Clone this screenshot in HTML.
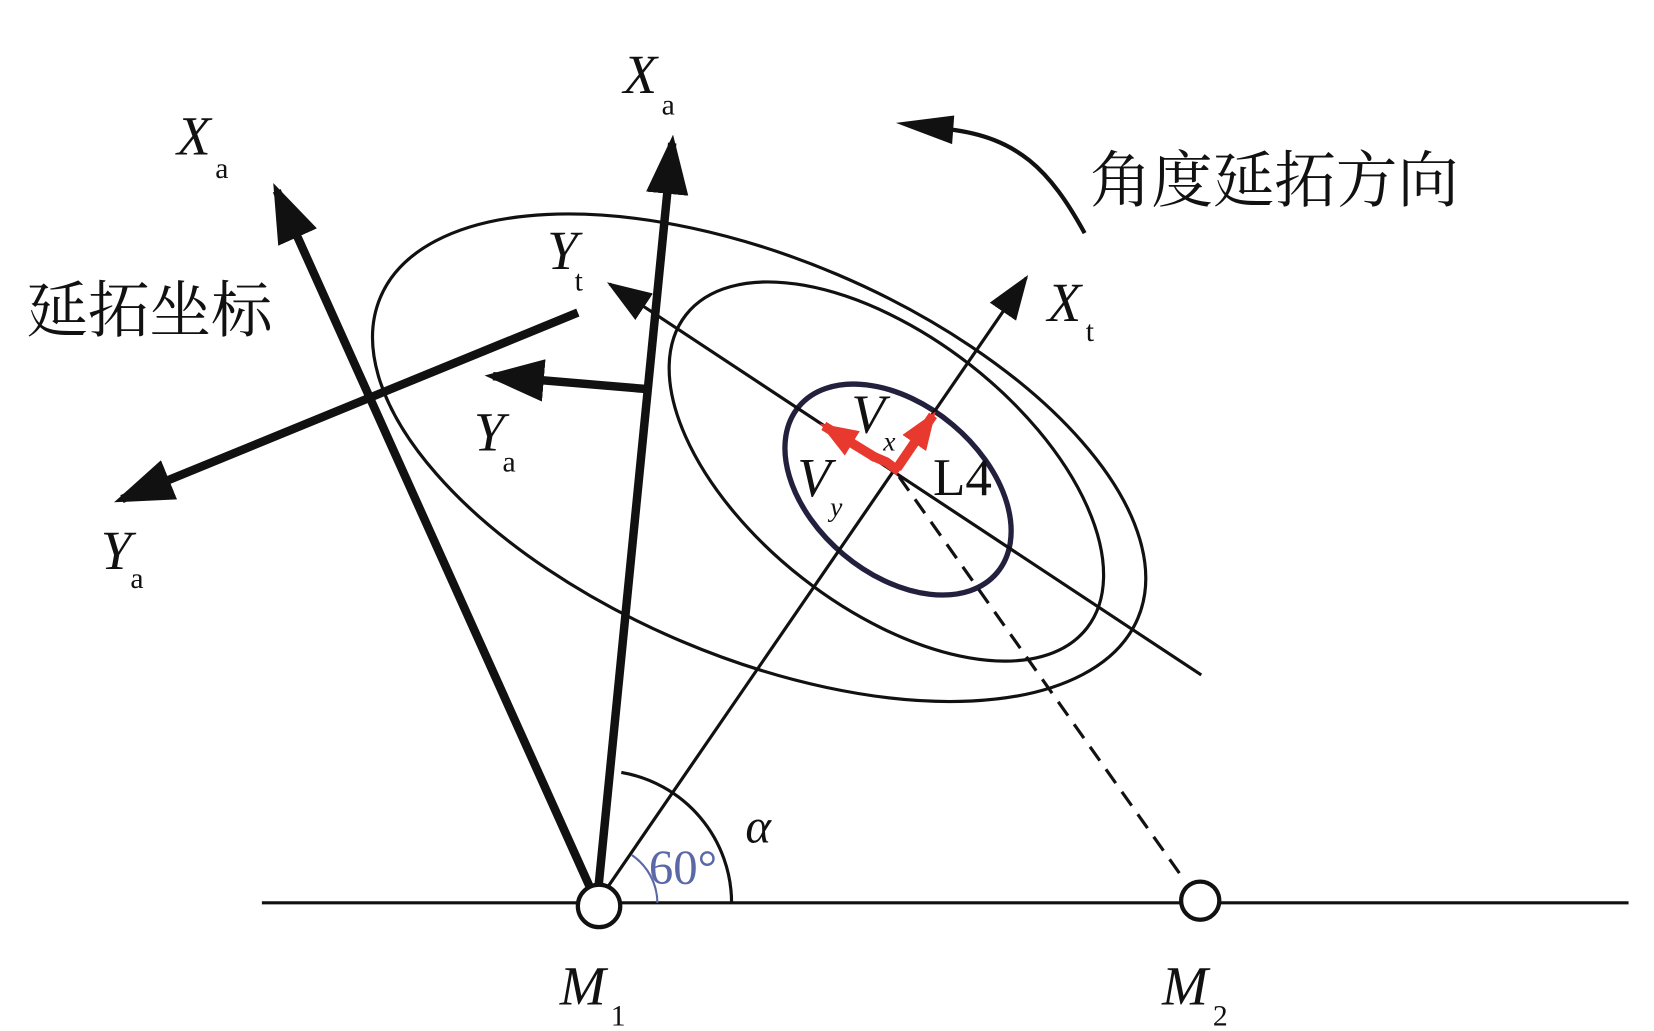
<!DOCTYPE html>
<html><head><meta charset="utf-8"><style>
html,body{margin:0;padding:0;background:#fff;width:1654px;height:1031px;overflow:hidden}
svg{display:block}
.i{font-family:"Liberation Serif",serif;font-style:italic;fill:#111}
.s{font-family:"Liberation Serif",serif;fill:#111}
.c{font-family:"Liberation Serif","Noto Serif CJK SC",serif;fill:#111}
</style></head><body>
<svg width="1654" height="1031" viewBox="0 0 1560 973" preserveAspectRatio="none" xmlns="http://www.w3.org/2000/svg">
<defs>
<marker id="ah" markerWidth="7" markerHeight="5" refX="6" refY="2.5" orient="auto" markerUnits="strokeWidth"><path d="M0,0 L7,2.5 L0,5 Z" fill="#111"/></marker>
<marker id="ah2" markerWidth="14" markerHeight="10" refX="13" refY="5" orient="auto" markerUnits="strokeWidth"><path d="M0,0 L14,5 L0,10 Z" fill="#111"/></marker>
<marker id="ar" markerWidth="4" markerHeight="3" refX="3.5" refY="1.5" orient="auto" markerUnits="strokeWidth"><path d="M0,0 L4,1.5 L0,3 Z" fill="#e8392f"/></marker>
</defs>
<g fill="none" stroke="#111">
<ellipse cx="716" cy="432" rx="388" ry="188" transform="rotate(23 716 432)" stroke-width="3"/>
<ellipse cx="836" cy="445" rx="240" ry="128" transform="rotate(38 836 445)" stroke-width="3"/>
<ellipse cx="847" cy="462" rx="122" ry="80" transform="rotate(40 847 462)" stroke="#22203d" stroke-width="5"/>
<line x1="247" y1="852" x2="1536" y2="852" stroke-width="3"/>
<line x1="563" y1="852" x2="968" y2="262" stroke-width="3" marker-end="url(#ah2)"/>
<line x1="1133" y1="637" x2="575" y2="268" stroke-width="3" marker-end="url(#ah2)"/>
<line x1="848" y1="450" x2="1118" y2="832" stroke-width="3" stroke-dasharray="16,10"/>
<line x1="563" y1="852" x2="261" y2="180" stroke-width="8" marker-end="url(#ah)"/>
<line x1="563" y1="852" x2="634" y2="135" stroke-width="8" marker-end="url(#ah)"/>
<line x1="545" y1="295" x2="115" y2="471" stroke-width="8" marker-end="url(#ah)"/>
<line x1="608" y1="367" x2="465" y2="355" stroke-width="8" marker-end="url(#ah)"/>
<path d="M690,852 A125,125 0 0 0 586,729" stroke-width="3"/>
<path d="M620,852 A55,55 0 0 0 596,807" stroke="#5a68a8" stroke-width="2"/>
<path d="M1023,220 C990,160 960,130 895,122" stroke-width="4"/>
</g>
<path d="M845,116 L900,109 L898,136 Z" fill="#111"/>
<g stroke="#e8392f" stroke-width="9" fill="none">
<polyline points="848,445 836,436 822,430" />
<line x1="826" y1="432" x2="777" y2="402" marker-end="url(#ar)"/>
<line x1="846" y1="442" x2="880" y2="392" marker-end="url(#ar)"/>
</g>
<circle cx="565" cy="855" r="20" fill="#fff" stroke="#111" stroke-width="4"/>
<circle cx="1132" cy="850" r="18" fill="#fff" stroke="#111" stroke-width="4"/>
<text class="i" x="167" y="146" font-size="52">X</text><text class="s" x="203" y="168" font-size="28">a</text>
<text class="i" x="588" y="88" font-size="52">X</text><text class="s" x="624" y="108" font-size="28">a</text>
<text class="i" x="516" y="254" font-size="52">Y</text><text class="s" x="542" y="274" font-size="28">t</text>
<text class="i" x="988" y="303" font-size="52">X</text><text class="s" x="1024" y="322" font-size="28">t</text>
<text class="i" x="447" y="425" font-size="52">Y</text><text class="s" x="474" y="445" font-size="28">a</text>
<text class="i" x="95" y="537" font-size="52">Y</text><text class="s" x="123" y="555" font-size="28">a</text>
<text class="i" x="803" y="408" font-size="52">V</text><text class="i" x="833" y="425" font-size="26">x</text>
<text class="i" x="752" y="468" font-size="52">V</text><text class="i" x="783" y="487" font-size="26">y</text>
<text class="s" x="880" y="467" font-size="50">L4</text>
<text class="i" x="703" y="795" font-size="46">α</text>
<text class="s" x="612" y="834" font-size="46" style="fill:#5a68a8">60°</text>
<text class="i" x="528" y="948" font-size="52">M</text><text class="s" x="576" y="968" font-size="28">1</text>
<text class="i" x="1096" y="948" font-size="52">M</text><text class="s" x="1144" y="968" font-size="28">2</text>
<text class="c" x="1028" y="190" font-size="58">角度延拓方向</text>
<text class="c" x="25" y="313" font-size="58">延拓坐标</text>
</svg>
</body></html>
